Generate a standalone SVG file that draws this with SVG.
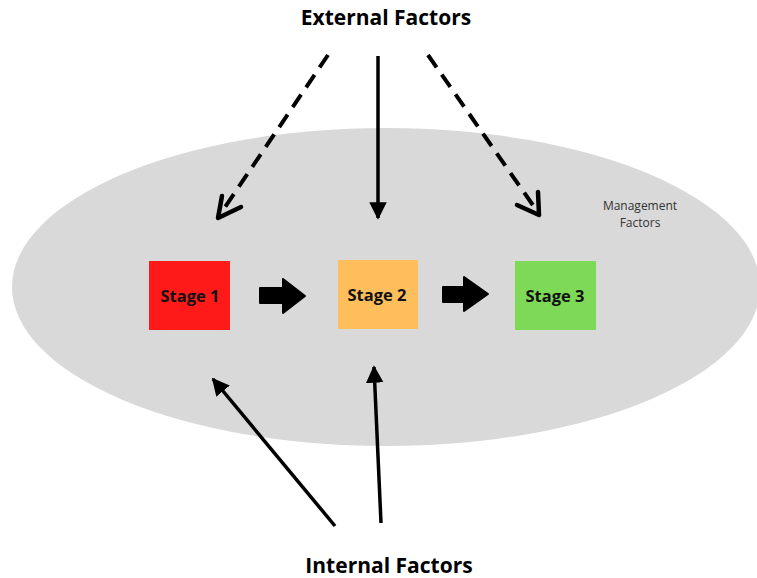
<svg xmlns="http://www.w3.org/2000/svg" width="757" height="578" viewBox="0 0 757 578">
<defs>
<style>
.title{font-family:"Open Sans","Liberation Sans",sans-serif;font-weight:bold;font-size:21px;fill:#000;text-anchor:middle}
.stage{font-family:"Open Sans","Liberation Sans",sans-serif;font-weight:bold;font-size:16.5px;fill:#111;text-anchor:middle}
.small{font-family:"Open Sans","Liberation Sans",sans-serif;font-size:12px;fill:#333;text-anchor:middle}
.dash{stroke:#000;stroke-width:4;fill:none;stroke-dasharray:15 9;stroke-linecap:butt}
.solid{stroke:#000;stroke-width:3.5;fill:none}
.openhead{stroke:#000;stroke-width:4.5;fill:none;stroke-linecap:round;stroke-linejoin:round}
.block{fill:#000;stroke:#000;stroke-width:2;stroke-linejoin:round}
</style>
<marker id="filled" viewBox="0 0 10 10" refX="9" refY="5" markerWidth="5" markerHeight="9" markerUnits="strokeWidth" orient="auto">
<path d="M0,0 L10,5 L0,10 z" fill="#000"/>
</marker>
</defs>
<rect width="757" height="578" fill="#fff"/>
<g id="management-factors">
<ellipse cx="386" cy="287" rx="374" ry="159" fill="#d9d9d9"/>
<text class="small" x="640" y="210">Management</text>
<text class="small" x="640" y="227">Factors</text>
</g>
<g id="external-factors"><text class="title" x="386" y="25">External Factors</text></g>
<g id="internal-factors"><text class="title" x="389" y="573">Internal Factors</text></g>
<g id="stage1"><rect x="149" y="261" width="81" height="69" fill="#ff1a1a"/><text class="stage" x="190" y="302">Stage 1</text></g>
<g id="stage2"><rect x="338" y="260" width="80" height="69" fill="#ffbe5c"/><text class="stage" x="377" y="301">Stage 2</text></g>
<g id="stage3"><rect x="515" y="261" width="81" height="69" fill="#7ed957"/><text class="stage" x="555" y="302">Stage 3</text></g>
<g id="connectors">
<path class="block" d="M260,288 L283,288 L283,279 L305,296 L283,313 L283,303 L260,303 z"/>
<path class="block" d="M443,287 L464,287 L464,277 L488,294 L464,311 L464,302 L443,302 z"/>
<line class="dash" x1="328" y1="55" x2="221" y2="213"/>
<path class="openhead" d="M222,196 L218,218 L241,207"/>
<line class="dash" x1="428" y1="55" x2="537" y2="211"/>
<path class="openhead" d="M517,205 L539,215 L538,192"/>
<line class="solid" x1="378" y1="56" x2="378" y2="218" marker-end="url(#filled)"/>
<line class="solid" x1="335" y1="526" x2="213" y2="379" marker-end="url(#filled)"/>
<line class="solid" x1="381" y1="523" x2="374" y2="367" marker-end="url(#filled)"/>
</g>
</svg>
